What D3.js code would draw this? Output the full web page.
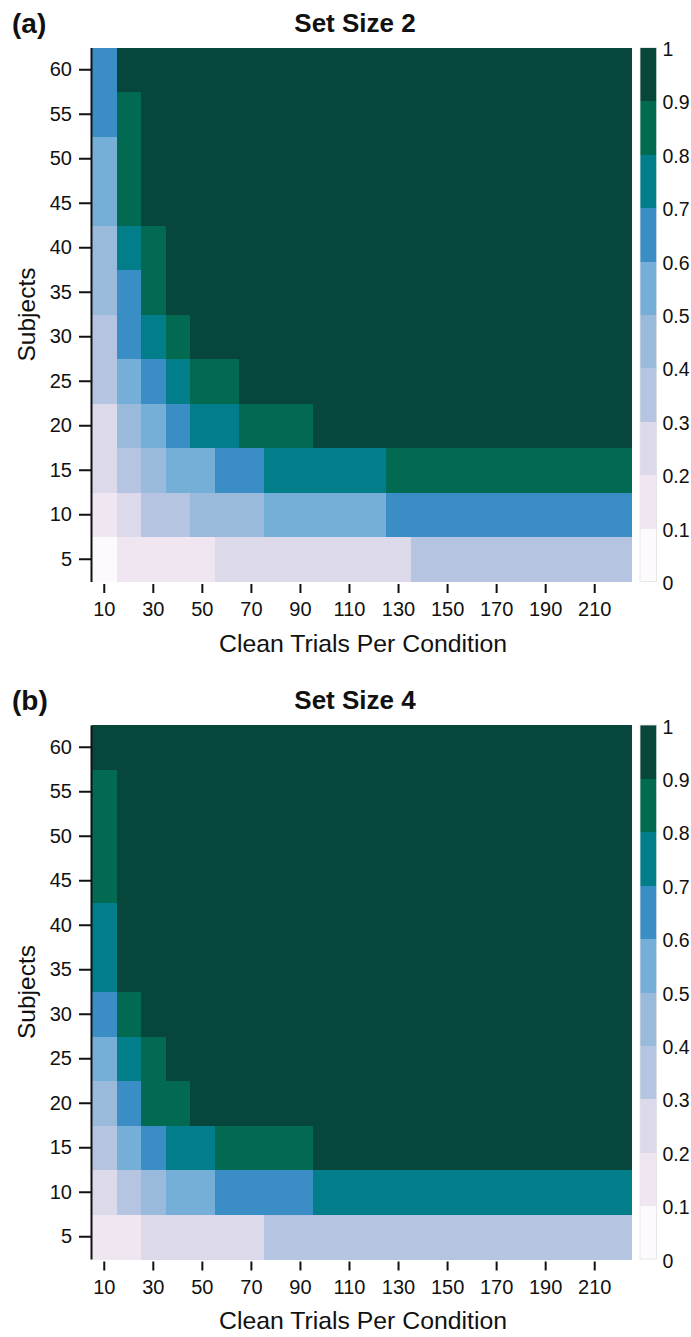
<!DOCTYPE html>
<html>
<head>
<meta charset="utf-8">
<script src="https://cdn.jsdelivr.net/npm/d3@7"></script>
<style>
  body { margin: 0; background: #fff; }
  svg { display: block; font-family: "Liberation Sans", Arial, sans-serif; }
</style>
</head>
<body>
<div id="chart"></div>
<script>
// clean trials per condition (columns) and number of subjects (rows)
const trials = [10, 20, 30, 40, 50, 60, 70, 80, 90, 100, 110, 120, 130, 140, 150, 160, 170, 180, 190, 200, 210, 220];
const subjects = [60, 55, 50, 45, 40, 35, 30, 25, 20, 15, 10, 5];
const trialTicks = [10, 30, 50, 70, 90, 110, 130, 150, 170, 190, 210];
const legendTicks = [0, 0.1, 0.2, 0.3, 0.4, 0.5, 0.6, 0.7, 0.8, 0.9, 1];
const binColors = ["#fcfafd", "#f0e6f2", "#dcd9ea", "#b5c4e0", "#9abadc", "#75aed6", "#3a8ec5", "#027e8b", "#016a50", "#07463a"];

// power per cell, one row per subject count (60 at top .. 5 at bottom)
const setSize2 = [
  [.65, .95, .95, .95, .95, .95, .95, .95, .95, .95, .95, .95, .95, .95, .95, .95, .95, .95, .95, .95, .95, .95],
  [.65, .85, .95, .95, .95, .95, .95, .95, .95, .95, .95, .95, .95, .95, .95, .95, .95, .95, .95, .95, .95, .95],
  [.55, .85, .95, .95, .95, .95, .95, .95, .95, .95, .95, .95, .95, .95, .95, .95, .95, .95, .95, .95, .95, .95],
  [.55, .85, .95, .95, .95, .95, .95, .95, .95, .95, .95, .95, .95, .95, .95, .95, .95, .95, .95, .95, .95, .95],
  [.45, .75, .85, .95, .95, .95, .95, .95, .95, .95, .95, .95, .95, .95, .95, .95, .95, .95, .95, .95, .95, .95],
  [.45, .65, .85, .95, .95, .95, .95, .95, .95, .95, .95, .95, .95, .95, .95, .95, .95, .95, .95, .95, .95, .95],
  [.35, .65, .75, .85, .95, .95, .95, .95, .95, .95, .95, .95, .95, .95, .95, .95, .95, .95, .95, .95, .95, .95],
  [.35, .55, .65, .75, .85, .85, .95, .95, .95, .95, .95, .95, .95, .95, .95, .95, .95, .95, .95, .95, .95, .95],
  [.25, .45, .55, .65, .75, .75, .85, .85, .85, .95, .95, .95, .95, .95, .95, .95, .95, .95, .95, .95, .95, .95],
  [.25, .35, .45, .55, .55, .65, .65, .75, .75, .75, .75, .75, .85, .85, .85, .85, .85, .85, .85, .85, .85, .85],
  [.15, .25, .35, .35, .45, .45, .45, .55, .55, .55, .55, .55, .65, .65, .65, .65, .65, .65, .65, .65, .65, .65],
  [.05, .15, .15, .15, .15, .25, .25, .25, .25, .25, .25, .25, .25, .35, .35, .35, .35, .35, .35, .35, .35, .35]
];
const setSize4 = [
  [.95, .95, .95, .95, .95, .95, .95, .95, .95, .95, .95, .95, .95, .95, .95, .95, .95, .95, .95, .95, .95, .95],
  [.85, .95, .95, .95, .95, .95, .95, .95, .95, .95, .95, .95, .95, .95, .95, .95, .95, .95, .95, .95, .95, .95],
  [.85, .95, .95, .95, .95, .95, .95, .95, .95, .95, .95, .95, .95, .95, .95, .95, .95, .95, .95, .95, .95, .95],
  [.85, .95, .95, .95, .95, .95, .95, .95, .95, .95, .95, .95, .95, .95, .95, .95, .95, .95, .95, .95, .95, .95],
  [.75, .95, .95, .95, .95, .95, .95, .95, .95, .95, .95, .95, .95, .95, .95, .95, .95, .95, .95, .95, .95, .95],
  [.75, .95, .95, .95, .95, .95, .95, .95, .95, .95, .95, .95, .95, .95, .95, .95, .95, .95, .95, .95, .95, .95],
  [.65, .85, .95, .95, .95, .95, .95, .95, .95, .95, .95, .95, .95, .95, .95, .95, .95, .95, .95, .95, .95, .95],
  [.55, .75, .85, .95, .95, .95, .95, .95, .95, .95, .95, .95, .95, .95, .95, .95, .95, .95, .95, .95, .95, .95],
  [.45, .65, .85, .85, .95, .95, .95, .95, .95, .95, .95, .95, .95, .95, .95, .95, .95, .95, .95, .95, .95, .95],
  [.35, .55, .65, .75, .75, .85, .85, .85, .85, .95, .95, .95, .95, .95, .95, .95, .95, .95, .95, .95, .95, .95],
  [.25, .35, .45, .55, .55, .65, .65, .65, .65, .75, .75, .75, .75, .75, .75, .75, .75, .75, .75, .75, .75, .75],
  [.15, .15, .25, .25, .25, .25, .25, .35, .35, .35, .35, .35, .35, .35, .35, .35, .35, .35, .35, .35, .35, .35]
];

const panels = [
  { tag: "(a)", title: "Set Size 2", values: setSize2 },
  { tag: "(b)", title: "Set Size 4", values: setSize4 }
];

const W = 691, H = 1337;
const PLOT = { LEFT: 92, RIGHT: 631.5, HEIGHT: 534 };
const PANEL_TOP = [47.5, 725];
const BAR = { X: 640, W: 16.5 };
const TICK_FONT = 20;

const svg = d3.select("#chart").append("svg")
  .attr("width", W)
  .attr("height", H);

const color = d3.scaleThreshold()
  .domain(legendTicks.slice(1, -1))
  .range(binColors);

const x = d3.scaleBand()
  .domain(trials)
  .range([PLOT.LEFT, PLOT.RIGHT]);

panels.forEach((p, i) => {
  const top = PANEL_TOP[i];
  const bottom = top + PLOT.HEIGHT;
  const g = svg.append("g");

  const y = d3.scaleBand()
    .domain(subjects)
    .range([top, bottom]);

  // cells
  const cells = [];
  p.values.forEach((row, r) => row.forEach((v, c) => cells.push({ s: subjects[r], t: trials[c], v })));
  g.selectAll("rect.cell")
    .data(cells)
    .enter().append("rect")
    .attr("class", "cell")
    .attr("x", d => x(d.t))
    .attr("y", d => y(d.s))
    .attr("width", x.bandwidth() + 0.5)
    .attr("height", y.bandwidth() + 0.5)
    .attr("fill", d => color(d.v))
    .attr("shape-rendering", "crispEdges");

  // y axis
  const yAxis = g.append("g")
    .attr("transform", `translate(${PLOT.LEFT - 1}, 0)`)
    .call(d3.axisLeft(y).tickSize(12).tickSizeOuter(0).tickPadding(7));
  yAxis.select(".domain").attr("stroke", "#111").attr("stroke-width", 2);
  yAxis.selectAll(".tick line").attr("stroke", "#111").attr("stroke-width", 2);
  yAxis.selectAll(".tick text")
    .attr("font-size", TICK_FONT)
    .attr("font-family", "Liberation Sans, Arial, sans-serif")
    .attr("fill", "#111");

  // x axis
  const xAxis = g.append("g")
    .attr("transform", `translate(0, ${bottom + 2.5})`)
    .call(d3.axisBottom(x).tickValues(trialTicks).tickSize(9).tickPadding(9));
  xAxis.select(".domain").remove();
  xAxis.selectAll(".tick line").attr("stroke", "#111").attr("stroke-width", 2);
  xAxis.selectAll(".tick text")
    .attr("font-size", TICK_FONT)
    .attr("font-family", "Liberation Sans, Arial, sans-serif")
    .attr("fill", "#111");

  // labels
  g.append("text")
    .attr("x", 363)
    .attr("y", bottom + 70)
    .attr("text-anchor", "middle")
    .attr("font-size", 24.8)
    .attr("fill", "#111")
    .text("Clean Trials Per Condition");

  g.append("text")
    .attr("transform", `translate(35, ${(top + bottom) / 2}) rotate(-90)`)
    .attr("text-anchor", "middle")
    .attr("font-size", 24.5)
    .attr("fill", "#111")
    .text("Subjects");

  g.append("text")
    .attr("x", 355)
    .attr("y", top - 16)
    .attr("text-anchor", "middle")
    .attr("font-size", 26)
    .attr("font-weight", "bold")
    .attr("fill", "#111")
    .text(p.title);

  g.append("text")
    .attr("x", 12)
    .attr("y", top - 15)
    .attr("font-size", 28)
    .attr("font-weight", "bold")
    .attr("fill", "#111")
    .text(p.tag);

  // colour bar
  const c = d3.scaleLinear().domain([0, 1]).range([bottom, top]);
  const bins = d3.pairs(legendTicks);
  g.selectAll("rect.bin")
    .data(bins)
    .enter().append("rect")
    .attr("class", "bin")
    .attr("x", BAR.X)
    .attr("y", d => c(d[1]))
    .attr("width", BAR.W)
    .attr("height", d => c(d[0]) - c(d[1]) + 0.5)
    .attr("fill", d => color((d[0] + d[1]) / 2))
    .attr("shape-rendering", "crispEdges");
  g.append("rect")
    .attr("x", BAR.X)
    .attr("y", top)
    .attr("width", BAR.W)
    .attr("height", PLOT.HEIGHT)
    .attr("fill", "none")
    .attr("stroke", "#e4e4e4")
    .attr("stroke-width", 0.8);

  g.selectAll("text.leg")
    .data(legendTicks)
    .enter().append("text")
    .attr("class", "leg")
    .attr("x", BAR.X + BAR.W + 6)
    .attr("y", d => c(d) + 8.5)
    .attr("font-size", 19.5)
    .attr("fill", "#111")
    .text(d => d3.format("")(d));
});
</script>
</body>
</html>
